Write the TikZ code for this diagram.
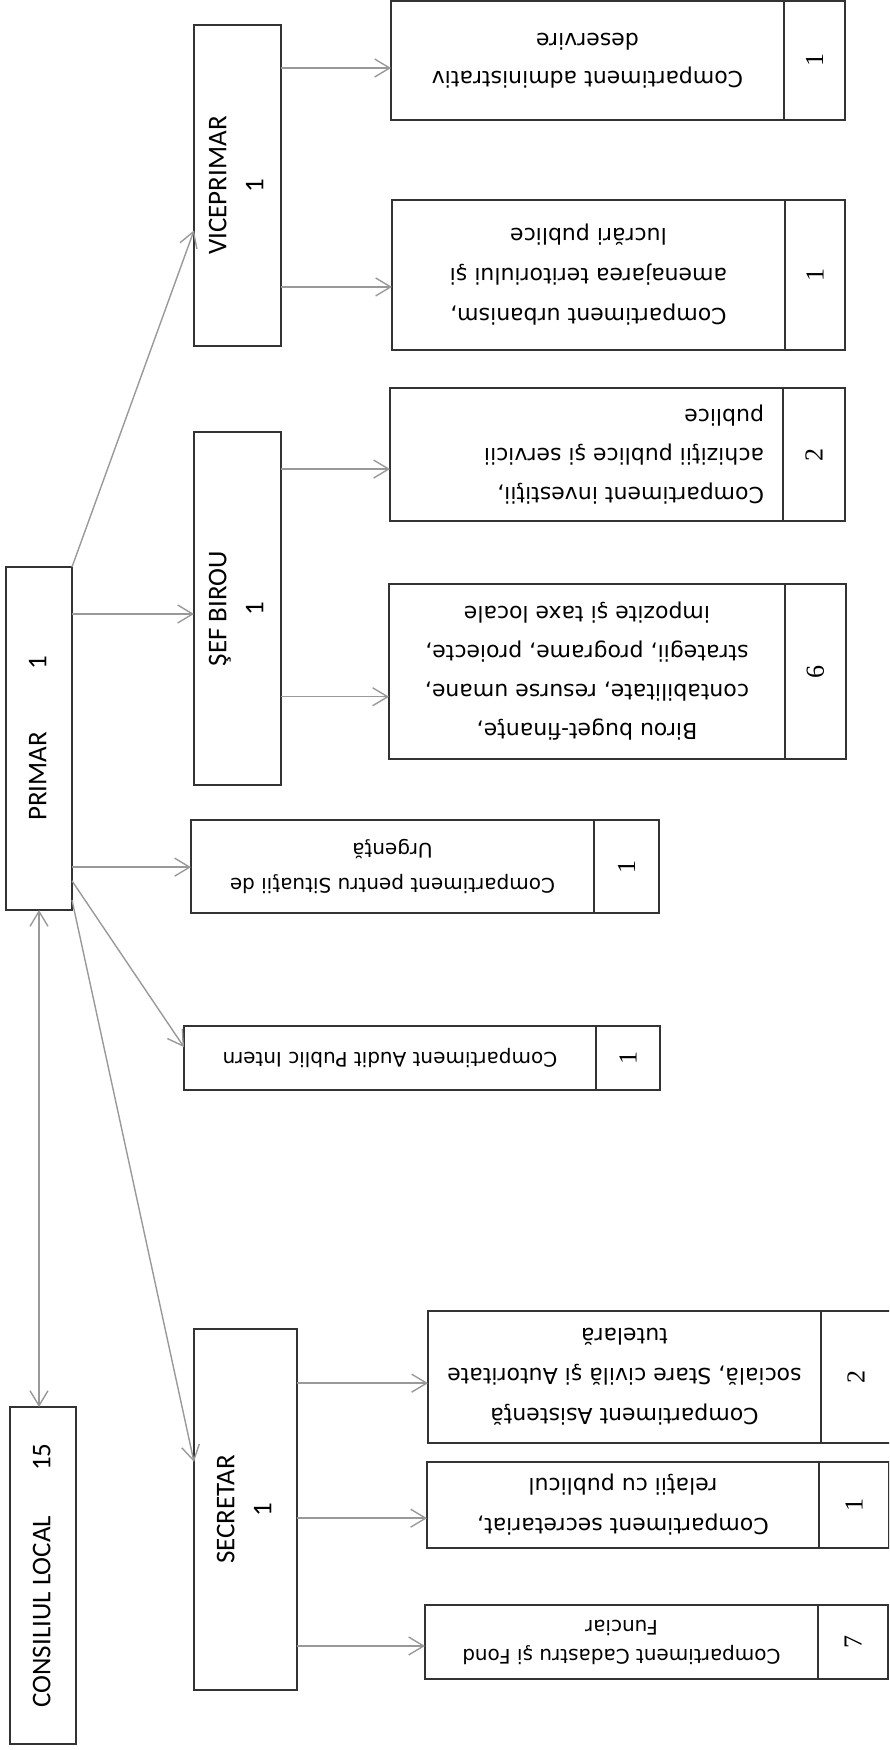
\documentclass[tikz,border=0pt]{standalone}
\usepackage{fontspec}
\newfontfamily\chieffont{Carlito}
\newfontfamily\deptfont{DejaVu Sans}
\newfontfamily\numfont{Liberation Serif}
\usetikzlibrary{arrows.meta,calc}

\newcommand\uptext[1]{\rotatebox{90}{\begin{tabular}{@{}c@{}}#1\end{tabular}}}
\newcommand\fliptext[3][\fontsize{22pt}{39pt}]{\rotatebox{180}{\parbox{#2}{#1\selectfont\centering #3}}}

\begin{document}
\begin{tikzpicture}[x=1pt,y=-1pt,>={Straight Barb[length=15pt,width=18pt]},
  chief/.style={draw=black!80,line width=1.3pt,inner sep=0pt,outer sep=0pt,anchor=north west,
    font={\chieffont\fontsize{27pt}{37pt}\selectfont}},
  dept/.style={draw=black!80,line width=1.3pt,inner sep=0pt,outer sep=0pt,anchor=north west,font=\deptfont},
  cell/.style={draw=black!80,line width=1.3pt,inner sep=0pt,outer sep=0pt,anchor=north west,
    font={\numfont\fontsize{26pt}{30pt}\selectfont}},
  link/.style={draw=black!40,line width=1.4pt,->}]

  \useasboundingbox (0,0) rectangle (889,1750);
  \clip (0,0) rectangle (889,1750);

  \node[chief,minimum width=66pt,minimum height=337pt] (CL) at (10,1407) {\uptext{CONSILIUL LOCAL\hspace{45pt}15}};
  \node[chief,minimum width=66pt,minimum height=343pt] (PR) at (6,567) {\uptext{PRIMAR\hspace{62pt}1}};
  \node[chief,minimum width=87pt,minimum height=321pt] (VP) at (194,25) {\uptext{VICEPRIMAR\\1}};
  \node[chief,minimum width=87pt,minimum height=353pt] (SB) at (194,432) {\uptext{ŞEF BIROU\\1}};
  \node[chief,minimum width=103pt,minimum height=361pt] (SE) at (194,1329) {\uptext{SECRETAR\\1}};

  \node[dept,minimum width=393pt,minimum height=119pt] (D1) at (391,1)
    {\fliptext[\fontsize{22pt}{38pt}]{380pt}{Compartiment administrativ\\deservire}};
  \node[cell,minimum width=61pt,minimum height=119pt] (N1) at (D1.north east) {\rotatebox{90}{1}};
  \node[dept,minimum width=393pt,minimum height=150pt] (D2) at (392,200)
    {\fliptext[\fontsize{22pt}{40pt}]{380pt}{Compartiment urbanism,\\amenajarea teritoriului şi\\lucrări publice}};
  \node[cell,minimum width=60pt,minimum height=150pt] (N2) at (D2.north east) {\rotatebox{90}{1}};
  \node[dept,minimum width=393pt,minimum height=133pt] (D3) at (390,388)
    {\fliptext{355pt}{\raggedright Compartiment investiţii,\\achiziţii publice şi servicii\\publice}};
  \node[cell,minimum width=62pt,minimum height=133pt] (N3) at (D3.north east) {\rotatebox{90}{2}};
  \node[dept,minimum width=396pt,minimum height=175pt] (D4) at (389,584)
    {\fliptext{380pt}{Birou buget-finanţe,\\contabilitate, resurse umane,\\strategii, programe, proiecte,\\impozite şi taxe locale}};
  \node[cell,minimum width=61pt,minimum height=175pt] (N4) at (D4.north east) {\rotatebox{90}{6}};
  \node[dept,minimum width=403pt,minimum height=93pt] (D5) at (191,820)
    {\fliptext[\fontsize{20pt}{35pt}]{390pt}{Compartiment pentru Situaţii de\\Urgenţă}};
  \node[cell,minimum width=65pt,minimum height=93pt] (N5) at (D5.north east) {\rotatebox{90}{1}};
  \node[dept,minimum width=412pt,minimum height=64pt] (D6) at (184,1026)
    {\fliptext[\fontsize{20pt}{30pt}]{400pt}{Compartiment Audit Public Intern}};
  \node[cell,minimum width=64pt,minimum height=64pt] (N6) at (D6.north east) {\rotatebox{90}{1}};
  \node[dept,minimum width=393pt,minimum height=132pt] (D7) at (428,1311)
    {\fliptext[\fontsize{22pt}{40pt}]{380pt}{Compartiment Asistenţă\\socială, Stare civilă şi Autoritate\\tutelară}};
  \node[cell,minimum width=70pt,minimum height=132pt] (N7) at (D7.north east) {\rotatebox{90}{2}};
  \node[dept,minimum width=392pt,minimum height=86pt] (D8) at (427,1462)
    {\fliptext[\fontsize{22pt}{40pt}]{380pt}{Compartiment secretariat,\\relaţii cu publicul}};
  \node[cell,minimum width=70pt,minimum height=86pt] (N8) at (D8.north east) {\rotatebox{90}{1}};
  \node[dept,minimum width=393pt,minimum height=74pt] (D9) at (425,1605)
    {\fliptext[\fontsize{20pt}{29pt}]{380pt}{Compartiment Cadastru şi Fond\\Funciar}};
  \node[cell,minimum width=70pt,minimum height=74pt] (N9) at (D9.north east) {\rotatebox{90}{7}};

  \coordinate (P1) at ($(PR.north east)!.137!(PR.south east)$);
  \coordinate (P2) at ($(PR.north east)!.875!(PR.south east)$);
  \coordinate (P3) at ($(PR.north east)!.915!(PR.south east)$);
  \coordinate (P4) at ($(PR.north east)!.971!(PR.south east)$);
  \coordinate (V1) at ($(VP.north east)!.134!(VP.south east)$);
  \coordinate (V2) at ($(VP.north east)!.816!(VP.south east)$);
  \coordinate (S1) at ($(SB.north east)!.105!(SB.south east)$);
  \coordinate (S2) at ($(SB.north east)!.75!(SB.south east)$);
  \coordinate (E1) at ($(SE.north east)!.15!(SE.south east)$);
  \coordinate (E2) at ($(SE.north east)!.524!(SE.south east)$);
  \coordinate (E3) at ($(SE.north east)!.878!(SE.south east)$);

  \draw[link,<->] (PR.south) -- (PR.south |- CL.north);
  \draw[link] (PR.north east) -- ($(VP.north west)!.64!(VP.south west)$);
  \draw[link] (P1) -- (P1 -| SB.west);
  \draw[link] (P2) -- (P2 -| D5.west);
  \draw[link] (P3) -- ($(D6.north west)!.33!(D6.south west)$);
  \draw[link] (P4) -- ($(SE.north west)!.368!(SE.south west)$);
  \draw[link] (V1) -- (V1 -| D1.west);
  \draw[link] (V2) -- (V2 -| D2.west);
  \draw[link] (S1) -- (S1 -| D3.west);
  \draw[link] (S2) -- (S2 -| D4.west);
  \draw[link] (E1) -- (E1 -| D7.west);
  \draw[link] (E2) -- (E2 -| D8.west);
  \draw[link] (E3) -- (E3 -| D9.west);

\end{tikzpicture}
\end{document}
